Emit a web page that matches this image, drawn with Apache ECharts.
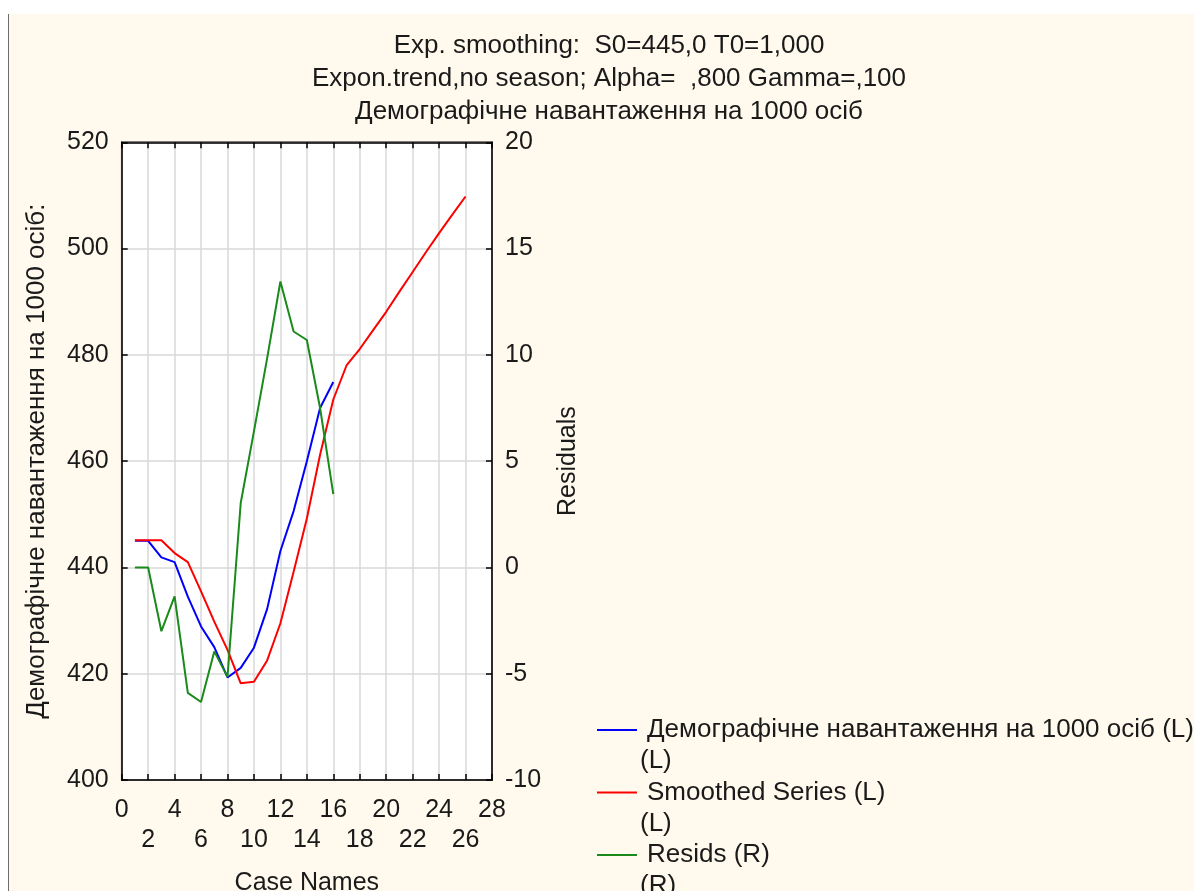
<!DOCTYPE html>
<html>
<head>
<meta charset="utf-8">
<script src="https://cdn.jsdelivr.net/npm/echarts@6/dist/echarts.min.js"></script>
<style>
  html, body { margin: 0; padding: 0; background: #ffffff; }
  #main { position: absolute; left: 8px; top: 14px; width: 1186px; height: 877px;
          border-left: 1px solid #6e6e6e; background: #fff9ee; }
</style>
</head>
<body>
<div id="main"></div>
<script>
// ---- data ----
const caseNames = [1,2,3,4,5,6,7,8,9,10,11,12,13,14,15,16,17,18,19,20,21,22,23,24,25,26];
const observed = [445, 445, 441.9, 441, 434.5, 428.9, 425, 419.3, 421.1, 424.9, 432.2, 443.1, 450.6, 460, 470, 474.9];
const smoothed = [445.1, 445.1, 445.1, 442.7, 441, 435.5, 429.8, 424.5, 418.2, 418.5, 422.5, 429.5, 439.2, 449.2, 461.2, 471.6,
                  478, 481.1, 484.6, 488.1, 491.9, 495.6, 499.3, 502.9, 506.4, 509.8];
const resids = [0, 0, -3.0, -1.36, -5.9, -6.33, -3.95, -5.15, 3.03, 6.4, 9.85, 13.45, 11.1, 10.7, 7.5, 3.45];
const seriesNames = ['Демографічне навантаження на 1000 осіб (L)', 'Smoothed Series (L)', 'Resids (R)'];
const seriesSuffix = ['(L)', '(L)', '(R)'];
const seriesColors = ['#0000ff', '#ff0000', '#1a8a1a'];
const titleLines = ['Exp. smoothing:  S0=445,0 T0=1,000', 'Expon.trend,no season; Alpha=  ,800 Gamma=,100', 'Демографічне навантаження на 1000 осіб'];
const leftAxisName = 'Демографічне навантаження на 1000 осіб:';
const rightAxisName = 'Residuals';
const xAxisName = 'Case Names';

const pair = (ys) => ys.map((v, i) => [caseNames[i], v]);
const FONT = '"Liberation Sans", Arial, sans-serif';
const TXT = '#1a1a1a';
const AX = 25, BIG = 26;

const chart = echarts.init(document.getElementById('main'), null, { renderer: 'canvas' });

const legendTop = 697, legendStep = 62.5, legendLeft = 583;
const line = { color: '#000', width: 1.5 };

chart.setOption({
  animation: false,
  backgroundColor: '#fff9ee',
  textStyle: { fontFamily: FONT },
  title: {
    text: titleLines.join('\n'),
    left: 595, top: 10, textAlign: 'center',
    textStyle: { fontSize: BIG, fontWeight: 'normal', color: TXT, lineHeight: 33, fontFamily: FONT }
  },
  grid: {
    left: 112.7, top: 128.3, width: 370.3, height: 637.7,
    outerBoundsMode: 'none', containLabel: false,
    show: true, backgroundColor: '#ffffff', borderColor: '#000', borderWidth: 1.5
  },
  legend: {
    orient: 'vertical', left: legendLeft, top: legendTop,
    itemWidth: 40, itemHeight: 2, itemGap: legendStep - 28,
    icon: 'path://M0 0 H40 V2 H0 Z',
    data: seriesNames.slice(),
    textStyle: { fontSize: BIG, color: TXT, lineHeight: 28, padding: [0, 0, 0, 5], fontFamily: FONT },
    selectedMode: false
  },
  graphic: seriesSuffix.map((s, i) => ({
    type: 'text', left: 631, top: 748 + i * legendStep - 14,
    style: { text: s, font: BIG + 'px ' + FONT, fill: TXT }
  })),
  xAxis: [
    {
      type: 'value', min: 0, max: 28, interval: 2, position: 'bottom',
      name: xAxisName, nameLocation: 'middle', nameGap: 91,
      nameTextStyle: { fontSize: AX, color: TXT },
      axisLine: { show: true, onZero: false, lineStyle: line },
      axisTick: { show: true, inside: true, length: 6, lineStyle: line },
      splitLine: { show: true, lineStyle: { color: '#d9d9d9', width: 1.5 } },
      axisLabel: {
        fontSize: AX, color: TXT, margin: 15, lineHeight: 30, hideOverlap: false,
        showMinLabel: true, showMaxLabel: true,
        formatter: (v) => (v % 4 === 0 ? String(v) : '')
      }
    },
    {
      type: 'value', min: 0, max: 28, interval: 2, position: 'top',
      axisLine: { show: true, onZero: false, lineStyle: line },
      axisTick: { show: true, inside: true, length: 6, lineStyle: line },
      splitLine: { show: false }, axisLabel: { show: false }
    },
    {
      type: 'value', min: 0, max: 28, interval: 2, position: 'bottom',
      axisLine: { show: false, onZero: false }, axisTick: { show: false },
      splitLine: { show: false },
      axisLabel: {
        fontSize: AX, color: TXT, margin: 45, lineHeight: 30, hideOverlap: false,
        showMinLabel: true, showMaxLabel: true,
        formatter: (v) => (v % 4 === 2 ? String(v) : '')
      }
    }
  ],
  yAxis: [
    {
      type: 'value', min: 400, max: 520, interval: 20, position: 'left',
      name: leftAxisName, nameLocation: 'middle', nameGap: 72, nameRotate: 90,
      nameTextStyle: { fontSize: BIG, color: TXT },
      axisLine: { show: true, onZero: false, lineStyle: line },
      axisTick: { show: true, inside: true, length: 6, lineStyle: line },
      splitLine: { show: true, lineStyle: { color: '#d9d9d9', width: 1.5 } },
      axisLabel: { fontSize: AX, color: TXT, margin: 13, showMinLabel: true, showMaxLabel: true }
    },
    {
      type: 'value', min: -10, max: 20, interval: 5, position: 'right',
      name: rightAxisName, nameLocation: 'middle', nameGap: 64, nameRotate: 90,
      nameTextStyle: { fontSize: AX, color: TXT },
      axisLine: { show: true, onZero: false, lineStyle: line },
      axisTick: { show: true, inside: true, length: 6, lineStyle: line },
      splitLine: { show: false },
      axisLabel: { fontSize: AX, color: TXT, margin: 13, showMinLabel: true, showMaxLabel: true }
    }
  ],
  series: [
    { name: seriesNames[0], type: 'line', xAxisIndex: 0, yAxisIndex: 0, data: pair(observed),
      symbol: 'none', lineStyle: { color: seriesColors[0], width: 2 }, itemStyle: { color: seriesColors[0] } },
    { name: seriesNames[1], type: 'line', xAxisIndex: 0, yAxisIndex: 0, data: pair(smoothed),
      symbol: 'none', lineStyle: { color: seriesColors[1], width: 2 }, itemStyle: { color: seriesColors[1] } },
    { name: seriesNames[2], type: 'line', xAxisIndex: 0, yAxisIndex: 1, data: pair(resids),
      symbol: 'none', lineStyle: { color: seriesColors[2], width: 2 }, itemStyle: { color: seriesColors[2] } }
  ]
});
</script>
</body>
</html>
